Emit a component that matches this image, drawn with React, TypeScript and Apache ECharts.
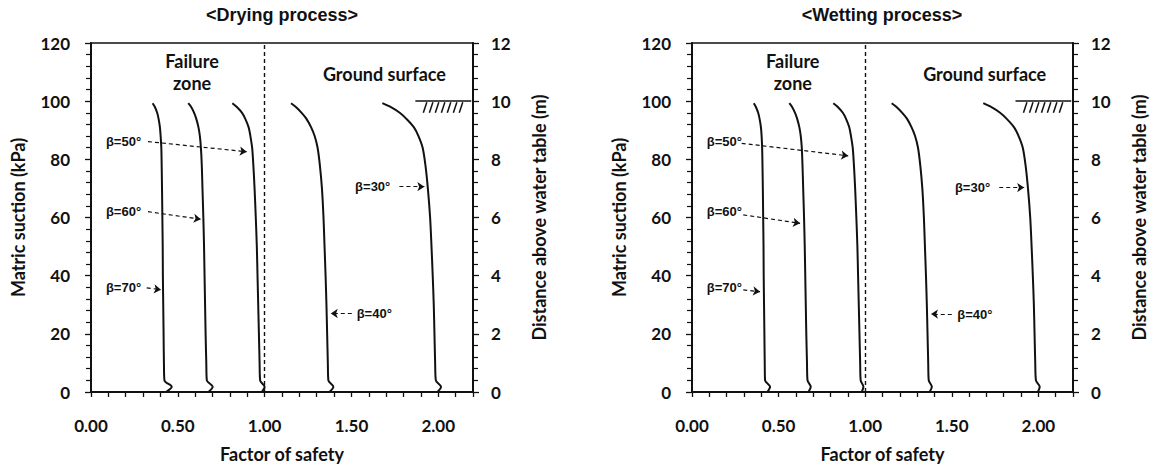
import React, { useEffect, useRef } from "react";
import * as echarts from "echarts";

// Matric suction levels (kPa) at which the curves were read
const kPaLevels = [99.3, 98, 96, 94, 91, 88, 84, 78, 70, 60, 50, 40, 30, 20, 10, 4, 1.8, 0];

// Drying process: factor of safety per slope angle
const dry70 = [0.355, 0.368, 0.381, 0.389, 0.397, 0.401, 0.405, 0.407, 0.409, 0.411, 0.413, 0.414, 0.416, 0.418, 0.42, 0.423, 0.465, 0.432];
const dry60 = [0.56, 0.577, 0.594, 0.606, 0.619, 0.627, 0.633, 0.638, 0.642, 0.647, 0.651, 0.654, 0.657, 0.66, 0.664, 0.667, 0.701, 0.676];
const dry50 = [0.814, 0.84, 0.87, 0.888, 0.908, 0.918, 0.928, 0.935, 0.942, 0.949, 0.955, 0.959, 0.963, 0.967, 0.971, 0.974, 1.0, 0.983];
const dry40 = [1.152, 1.18, 1.213, 1.24, 1.268, 1.288, 1.305, 1.318, 1.33, 1.339, 1.345, 1.351, 1.356, 1.36, 1.364, 1.367, 1.396, 1.373];
const dry30 = [1.678, 1.725, 1.778, 1.815, 1.86, 1.886, 1.91, 1.926, 1.94, 1.953, 1.961, 1.968, 1.974, 1.978, 1.982, 1.986, 2.016, 1.995];

// Wetting process
const wet70 = [0.357, 0.369, 0.382, 0.39, 0.398, 0.402, 0.405, 0.407, 0.409, 0.411, 0.413, 0.414, 0.416, 0.418, 0.42, 0.422, 0.451, 0.435];
const wet60 = [0.562, 0.578, 0.595, 0.607, 0.62, 0.628, 0.634, 0.638, 0.642, 0.647, 0.651, 0.654, 0.657, 0.66, 0.664, 0.667, 0.686, 0.672];
const wet50 = [0.816, 0.842, 0.871, 0.889, 0.908, 0.918, 0.928, 0.935, 0.942, 0.949, 0.955, 0.959, 0.963, 0.967, 0.971, 0.974, 0.99, 0.98];
const wet40 = [1.153, 1.181, 1.214, 1.241, 1.268, 1.288, 1.305, 1.318, 1.33, 1.339, 1.345, 1.351, 1.356, 1.36, 1.364, 1.367, 1.385, 1.372];
const wet30 = [1.682, 1.727, 1.779, 1.816, 1.86, 1.886, 1.91, 1.926, 1.94, 1.953, 1.961, 1.968, 1.974, 1.978, 1.982, 1.986, 2.008, 1.997];

// Annotations (order: β=30, 40, 50, 60, 70)
const betaLabels = ["β=30°", "β=40°", "β=50°", "β=60°", "β=70°"];
const dryLabelX = [1.521, 1.53, 0.086, 0.086, 0.086];
const dryLabelY = [70.6, 27.0, 86.1, 62.0, 35.8];
const dryArrowFromX = [1.776, 1.502, 0.328, 0.328, 0.321];
const dryArrowFromY = [70.6, 27.0, 86.1, 62.0, 35.8];
const dryArrowToX = [1.92, 1.381, 0.897, 0.632, 0.403];
const dryArrowToY = [70.6, 27.0, 82.6, 59.4, 35.2];

const wetLabelX = [1.518, 1.532, 0.085, 0.085, 0.085];
const wetLabelY = [70.3, 26.8, 86.1, 62.0, 35.8];
const wetArrowFromX = [1.774, 1.5, 0.287, 0.296, 0.296];
const wetArrowFromY = [70.3, 26.8, 85.5, 60.9, 35.1];
const wetArrowToX = [1.918, 1.38, 0.902, 0.624, 0.393];
const wetArrowToY = [70.3, 26.8, 81.2, 58.0, 34.5];

// Ground surface symbol
const groundX = [1.868, 2.19];
const groundY = 100;
const hatchTopX = [1.934, 1.969, 2.003, 2.038, 2.072, 2.107, 2.141];
const hatchDX = -0.02;
const hatchTopY = 99.6;
const hatchBottomY = 96.0;

const failureLabel = "Failure\nzone";
const failurePos = [0.582, 110];
const groundLabel = "Ground surface";
const groundLabelPos = [1.69, 109.5];
const failureFS = 1.0;

const titles = ["<Drying process>", "<Wetting process>"];
const xName = "Factor of safety";
const yLeftName = "Matric suction (kPa)";
const yRightName = "Distance above water table (m)";

const INK = "#111";
const tickFont = { fontFamily: "Lato", fontWeight: "bold", fontSize: 17, color: "#111" };
const nameFont = { fontFamily: "Lato", fontWeight: "bold", fontSize: 18, color: INK };

function buildPanel(gi: number, curves: number[][], lx: number[], ly: number[], fx: number[], fy: number[], tx: number[], ty: number[]) {
  const yi = gi * 2;
  const curveSeries = curves.map((c, i) => ({
    type: "line",
    name: betaLabels[i] + "-" + gi,
    xAxisIndex: gi,
    yAxisIndex: yi,
    data: c.map((fs, k) => [fs, kPaLevels[k]]),
    showSymbol: false,
    symbol: "none",
    smooth: 0.3,
    lineStyle: { color: INK, width: 2 },
    silent: true,
  }));
  const labelData: any[] = betaLabels.map((t, i) => ({
    name: t,
    value: [lx[i], ly[i]],
    label: { align: "left", verticalAlign: "middle", fontFamily: "Liberation Sans", fontWeight: "bold", fontSize: 13, color: "#111" },
  }));
  labelData.push({
    name: failureLabel,
    value: failurePos,
    label: { align: "center", verticalAlign: "middle", fontFamily: "Lato", fontWeight: "bold", fontSize: 18, lineHeight: 22, color: INK },
  });
  labelData.push({
    name: groundLabel,
    value: groundLabelPos,
    label: { align: "center", verticalAlign: "middle", fontFamily: "Lato", fontWeight: "bold", fontSize: 18, color: INK },
  });
  const labelSeries = {
    type: "scatter",
    xAxisIndex: gi,
    yAxisIndex: yi,
    symbolSize: 0.01,
    itemStyle: { color: INK, opacity: 1 },
    silent: true,
    data: labelData,
    label: { show: true, position: "inside", color: INK, textBorderWidth: 0, opacity: 1, formatter: (p: any) => p.name },
    markLine: {
      silent: true,
      symbol: ["none", "arrow"],
      symbolSize: 7,
      label: { show: false },
      lineStyle: { color: INK, width: 1.2, type: [4, 3] },
      emphasis: { disabled: true },
      data: fx.map((x, i) => [{ coord: [x, fy[i]] }, { coord: [tx[i], ty[i]] }]),
    },
  };
  const dashedSeries = {
    type: "line",
    xAxisIndex: gi,
    yAxisIndex: yi,
    data: [],
    silent: true,
    markLine: {
      silent: true,
      symbol: ["none", "none"],
      label: { show: false },
      lineStyle: { color: INK, width: 1.4, type: [4, 3] },
      emphasis: { disabled: true },
      data: [{ xAxis: failureFS }],
    },
  };
  const groundSeries = {
    type: "line",
    xAxisIndex: gi,
    yAxisIndex: yi,
    data: [],
    silent: true,
    markLine: {
      silent: true,
      symbol: ["none", "none"],
      label: { show: false },
      lineStyle: { color: INK, width: 1.5, type: "solid" },
      emphasis: { disabled: true },
      data: [
        [{ coord: [groundX[0], groundY] }, { coord: [groundX[1], groundY] }],
        ...hatchTopX.map((x) => [{ coord: [x + hatchDX, hatchBottomY] }, { coord: [x, hatchTopY] }]),
      ],
    },
  };
  return [...curveSeries, labelSeries, dashedSeries, groundSeries];
}

function xAxisFor(gi: number) {
  return {
    type: "value",
    gridIndex: gi,
    min: 0,
    max: 2.2,
    interval: 0.1,
    axisLine: { show: true, onZero: false, lineStyle: { color: INK, width: 2 } },
    axisTick: { show: true, length: 5, lineStyle: { color: INK, width: 1.3 } },
    axisLabel: {
      ...tickFont,
      margin: 25,
      formatter: (v: number) => (Math.abs(v * 2 - Math.round(v * 2)) < 1e-6 ? v.toFixed(2) : ""),
    },
    splitLine: { show: false },
    name: xName,
    nameLocation: "middle",
    nameGap: 53,
    nameTextStyle: nameFont,
  };
}

function yAxesFor(gi: number) {
  return [
    {
      type: "value",
      gridIndex: gi,
      position: "left",
      min: 0,
      max: 120,
      interval: 20,
      axisLine: { show: true, onZero: false, lineStyle: { color: INK, width: 2 } },
      axisTick: { show: true, length: 6, lineStyle: { color: INK, width: 1.3 } },
      minorTick: { show: true, splitNumber: 5, length: 5, lineStyle: { color: INK, width: 1.2 } },
      axisLabel: { ...tickFont, margin: 21 },
      splitLine: { show: false },
      minorSplitLine: { show: false },
      name: yLeftName,
      nameLocation: "middle",
      nameRotate: 90,
      nameGap: 64,
      nameTextStyle: nameFont,
    },
    {
      type: "value",
      gridIndex: gi,
      position: "right",
      min: 0,
      max: 12,
      interval: 2,
      axisLine: { show: true, onZero: false, lineStyle: { color: INK, width: 2 } },
      axisTick: { show: true, length: 6, lineStyle: { color: INK, width: 1.3 } },
      minorTick: { show: true, splitNumber: 5, length: 5, lineStyle: { color: INK, width: 1.2 } },
      axisLabel: { ...tickFont, margin: 18 },
      splitLine: { show: false },
      minorSplitLine: { show: false },
      name: yRightName,
      nameLocation: "middle",
      nameRotate: 90,
      nameGap: 57,
      nameTextStyle: nameFont,
    },
  ];
}

export default function App() {
  const ref = useRef<HTMLDivElement>(null);
  useEffect(() => {
    if (!ref.current) return;
    const chart = echarts.init(ref.current, undefined, { renderer: "svg" });
    const option: any = {
      animation: false,
      backgroundColor: "#fff",
      grid: [
        { left: 91, right: 683, top: 43, bottom: 83, show: true, borderColor: INK, borderWidth: 1.5, backgroundColor: "transparent" },
        { left: 692, right: 83, top: 43, bottom: 83, show: true, borderColor: INK, borderWidth: 1.5, backgroundColor: "transparent" },
      ],
      graphic: [
        { type: "text", x: 282, y: 15, style: { text: titles[0], textAlign: "center", textVerticalAlign: "middle", fontFamily: "Liberation Sans", fontWeight: "bold", fontSize: 18, fill: INK } },
        { type: "text", x: 882, y: 15, style: { text: titles[1], textAlign: "center", textVerticalAlign: "middle", fontFamily: "Liberation Sans", fontWeight: "bold", fontSize: 18, fill: INK } },
      ],
      xAxis: [xAxisFor(0), xAxisFor(1)],
      yAxis: [...yAxesFor(0), ...yAxesFor(1)],
      series: [
        ...buildPanel(0, [dry30, dry40, dry50, dry60, dry70], dryLabelX, dryLabelY, dryArrowFromX, dryArrowFromY, dryArrowToX, dryArrowToY),
        ...buildPanel(1, [wet30, wet40, wet50, wet60, wet70], wetLabelX, wetLabelY, wetArrowFromX, wetArrowFromY, wetArrowToX, wetArrowToY),
      ],
    };
    chart.setOption(option);
    return () => chart.dispose();
  }, []);
  return <div ref={ref} style={{ position: "absolute", left: 0, top: 0, width: 1156, height: 475 }} />;
}
